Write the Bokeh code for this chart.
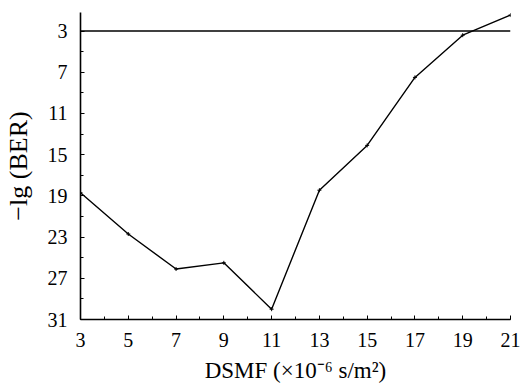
from bokeh.plotting import figure
from bokeh.models import Range1d, FixedTicker
from bokeh.embed import file_html
from bokeh.resources import INLINE

dsmf = [3, 5, 7, 9, 11, 13, 15, 17, 19, 21]
neg_lg_ber = [18.7, 22.7, 26.1, 25.5, 30.0, 18.45, 14.1, 7.5, 3.4, 1.45]
threshold = 3
x_ticks = [3, 5, 7, 9, 11, 13, 15, 17, 19, 21]
y_ticks = [3, 7, 11, 15, 19, 23, 27, 31]

p = figure(width=525, height=385, output_backend="svg", toolbar_location=None,
           x_range=Range1d(3, 21), y_range=Range1d(31, 1.2),
           min_border_left=79, min_border_right=15, min_border_top=12, min_border_bottom=64)
p.outline_line_color = None
p.grid.visible = False
p.background_fill_color = "white"

p.line([dsmf[0], dsmf[-1]], [threshold, threshold], line_color="black", line_width=1.4)
p.line(dsmf, neg_lg_ber, line_color="black", line_width=1.4)
p.scatter(dsmf, neg_lg_ber, marker="cross", size=4, line_color="black", line_width=1)

font = "'Liberation Serif', 'Times New Roman', serif"
p.xaxis.ticker = FixedTicker(ticks=x_ticks, minor_ticks=list(range(3, 22)))
p.yaxis.ticker = FixedTicker(ticks=y_ticks, minor_ticks=list(range(3, 32, 2)))
for ax in (p.xaxis[0], p.yaxis[0]):
    ax.axis_line_color = "black"
    ax.axis_line_width = 1.6
    ax.major_tick_in = 4
    ax.major_tick_out = 0
    ax.minor_tick_in = 3
    ax.minor_tick_out = 0
    ax.major_tick_line_color = "black"
    ax.minor_tick_line_color = "black"
    ax.major_label_text_font = font
    ax.major_label_text_font_size = "20px"
    ax.major_label_text_color = "black"
    ax.axis_label_text_font = font
    ax.axis_label_text_font_style = "normal"
    ax.axis_label_text_color = "black"
    ax.major_label_standoff = 13

p.xaxis.axis_label = "DSMF (×10⁻⁶ s/m²)"
p.yaxis.axis_label = "−lg (BER)"
p.xaxis.axis_label_text_font_size = "23px"
p.yaxis.axis_label_text_font_size = "26px"
p.xaxis.axis_label_standoff = 8
p.yaxis.axis_label_standoff = 12

open("out.html", "w").write(file_html(p, INLINE))
